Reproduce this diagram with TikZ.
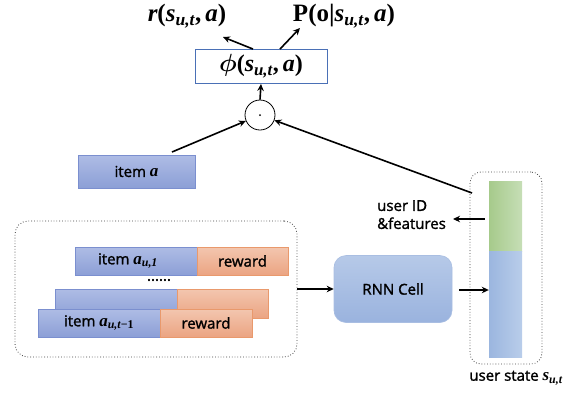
\documentclass[tikz,border=0pt]{standalone}
\usepackage{amsmath}
\usepackage[no-math]{fontspec}
\setmainfont{Open Sans}[UprightFeatures={FakeBold=1.5}]
\newfontfamily\mfont{Liberation Serif}
\usepackage{bm}
\newcommand\bi[1]{\text{\mfont\bfseries\itshape #1}}
\newcommand\bu[1]{\text{\mfont\bfseries #1}}
\usetikzlibrary{arrows.meta,calc}
\definecolor{itemtop}{HTML}{AEBCE5}
\definecolor{itembot}{HTML}{8C9FD6}
\definecolor{itemborder}{HTML}{7B8FCF}
\definecolor{ortop}{HTML}{F3C6AF}
\definecolor{orbot}{HTML}{EBA482}
\definecolor{orborder}{HTML}{E9996C}
\definecolor{grleft}{HTML}{A6CA8B}
\definecolor{grright}{HTML}{C6DEB6}
\definecolor{stleft}{HTML}{9BB6DF}
\definecolor{stright}{HTML}{B9CDEA}
\definecolor{rnntop}{HTML}{B6C9E8}
\definecolor{rnnbot}{HTML}{9AB3DE}
\definecolor{rnnborder}{HTML}{A9BEE2}
\definecolor{phiborder}{HTML}{4A70B6}
\begin{document}
\begin{tikzpicture}[x=1pt,y=-1pt,
  arr/.style={-{Stealth[length=7pt,width=6.5pt]}, line width=1.6pt},
  txt/.style={font=\fontsize{15}{17}\selectfont},
  mathlbl/.style={font=\fontsize{25}{27}\selectfont, inner sep=0},
  itembox/.style={draw=itemborder, line width=0.6pt, top color=itemtop, bottom color=itembot, inner sep=0, minimum width=122pt, minimum height=28pt, txt},
  rewbox/.style={draw=orborder, line width=0.6pt, top color=ortop, bottom color=orbot, inner sep=0, minimum height=28pt, txt},
  dotbox/.style={draw=black!75, dotted, line width=0.8pt, rounded corners=13pt, inner sep=0}
]
\useasboundingbox (0,0) rectangle (574,392);

% top labels
\node[mathlbl] (r) at (187,16) {$\bi{r}\bu{(}\bi{s}_{\bi{u,t}}\bu{,}\,\bi{a}\bu{)}$};
\node[mathlbl] (p) at (344,16) {$\bu{P(o|}\bi{s}_{\bi{u,t}}\bu{,}\,\bi{a}\bu{)}$};

% phi box
\node[draw=phiborder, line width=0.9pt, fill=white, minimum width=132pt, minimum height=34pt, inner sep=0, font=\fontsize{24}{26}\selectfont] (phi) at (261,66.5) {$\bm{\phi}\bu{(}\bi{s}_{\bi{u,t}}\bu{,}\,\bi{a}\bu{)}$};

\coordinate (rl) at (223,37);
\coordinate (pl) at (300,28);
\draw[arr] ($(phi.north)+(-8,0)$) -- (rl);
\draw[arr] ($(phi.north)+(19,0)$) -- (pl);

% dot product circle
\node[circle, draw, line width=0.8pt, fill=white, minimum size=30pt, inner sep=0] (dot) at (260,115) {};
\fill (dot.center) circle (1pt);
\draw[arr] (dot.north) -- (phi.south);

% item a
\node[itembox, minimum width=117pt, minimum height=33pt] (itema) at (136.5,171.5) {item {\fontsize{17}{19}\selectfont$\bi{a}$}};
\coordinate (ias) at (172,152);
\draw[arr] (ias) -- (dot);

% history box
\node[dotbox, minimum width=282pt, minimum height=136pt] (big) at (156,289) {};
\node[itembox] (i1) at (136,261) {item {\fontsize{17}{19}\selectfont$\bi{a}_{\bi{u,1}}$}\hspace*{16pt}};
\node[rewbox, minimum width=91pt] (r1) at (242.5,261) {reward};
\node[txt] (dots) at (159,280) {......};
\node[itembox, minimum height=29pt] (i2) at (116,303.5) {};
\node[rewbox, minimum width=91pt, minimum height=29pt] (r2) at (222.5,303.5) {};
\node[itembox] (i3) at (99,323) {item {\fontsize{17}{19}\selectfont$\bi{a}_{\bi{u,t}\bu{−1}}$}};
\node[rewbox, minimum width=92pt] (r3) at (206,323) {reward};

% RNN cell
\node[draw=rnnborder, line width=0.6pt, top color=rnntop, bottom color=rnnbot, rounded corners=12pt, minimum width=118pt, minimum height=67pt, inner sep=0, txt] (rnn) at (393,289) {RNN Cell};
\draw[arr] (big.east) -- (rnn.west);

% user state
\node[dotbox, minimum width=72pt, minimum height=192pt, rounded corners=11pt] (usbox) at (506,268) {};
\node[left color=grleft, right color=grright, minimum width=33pt, minimum height=70pt, inner sep=0] (green) at (505.5,216) {};
\node[left color=stleft, right color=stright, minimum width=33pt, minimum height=106pt, inner sep=0] (state) at (505.5,304) {};
\node[txt, anchor=north west, align=left, inner sep=0] (uid) at (377,200) {user ID\\[1pt]\&features};
\coordinate (uidend) at (453,219);
\draw[arr] ($(green.west)+(-4,3)$) -- (uidend);
\coordinate (rnnout) at (459,290);
\draw[arr] (rnnout) -- (state.west |- rnnout);
\node[txt] (uslbl) at (516,378) {user state {\fontsize{17}{19}\selectfont$\bi{s}_{\bi{u,t}}$}};

\coordinate (uss) at (472,193);
\draw[arr] (uss) -- (dot);
\end{tikzpicture}
\end{document}
